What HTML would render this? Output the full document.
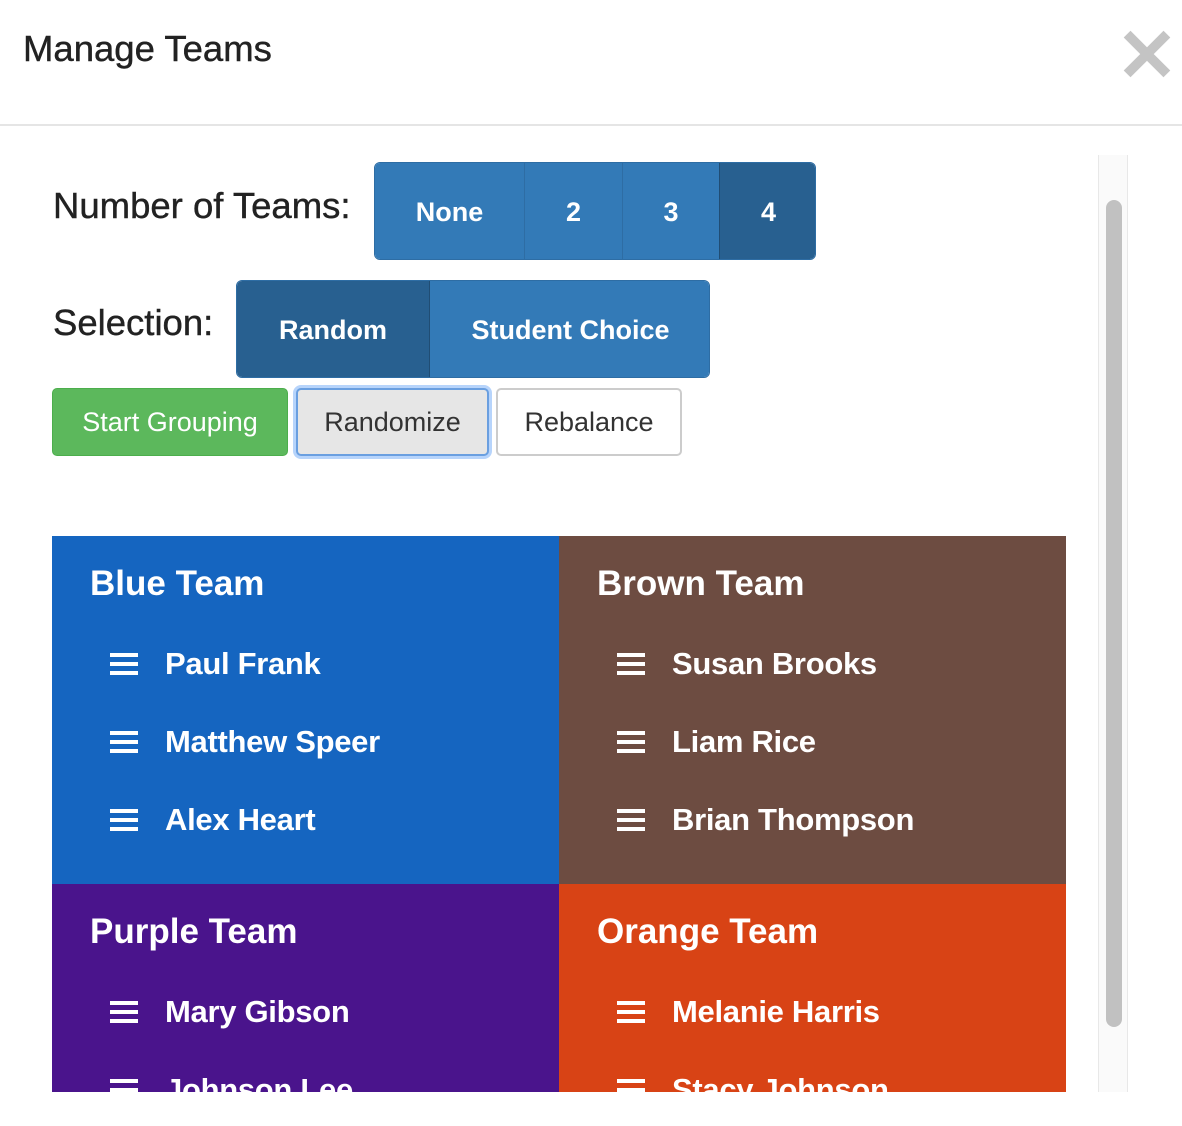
<!DOCTYPE html>
<html><head><style>
*{margin:0;padding:0;box-sizing:border-box}
body{width:1182px;height:1126px;background:#fff;font-family:"Liberation Sans",sans-serif;position:relative;overflow:hidden}
.a{position:absolute;white-space:nowrap}
.btn{position:absolute;display:flex;align-items:center;justify-content:center;color:#fff;font-size:27px;font-weight:bold;background:#337ab7}
.team{position:absolute;color:#fff;overflow:hidden}
.team h2{position:absolute;left:38px;top:28px;font-size:35px;font-weight:bold}
.nm{position:absolute;left:58px;font-size:31px;font-weight:bold;display:flex;align-items:center;letter-spacing:-0.3px}
.hb{width:28px;height:22px;margin-right:27px;background:linear-gradient(#fff 0 4px,transparent 4px 9px,#fff 9px 13px,transparent 13px 18px,#fff 18px 22px)}
</style></head><body>
<div class="a" style="left:23px;top:28px;font-size:36.5px;color:#222;-webkit-text-stroke:0.4px #222">Manage Teams</div>
<div class="a" style="left:1116px;top:14px;font-size:74px;font-weight:bold;color:#c4c4c4;line-height:84px">✕</div>
<div class="a" style="left:0;top:124px;width:1182px;height:2px;background:#e5e5e5"></div>
<div class="a" style="left:1098px;top:155px;width:30px;height:937px;background:#fafafa;border-left:1px solid #e8e8e8;border-right:1px solid #e8e8e8"></div>
<div class="a" style="left:1106px;top:200px;width:16px;height:827px;background:#c1c1c1;border-radius:8px"></div>

<div class="a" style="left:53px;top:185px;font-size:36.5px;color:#222;-webkit-text-stroke:0.4px #222">Number of Teams:</div>
<div class="a" style="left:374px;top:162px;width:442px;height:98px;border-radius:6px;overflow:hidden;border:1px solid #2e6da4">
<div class="btn" style="left:0;top:0;width:150px;height:98px;border-right:1px solid #2e6da4">None</div>
<div class="btn" style="left:150px;top:0;width:98px;height:98px;border-right:1px solid #2e6da4">2</div>
<div class="btn" style="left:248px;top:0;width:96px;height:98px">3</div>
<div class="btn" style="left:344px;top:0;width:98px;height:98px;background:#286090;border-left:1px solid #204d74">4</div>
</div>
<div class="a" style="left:53px;top:302px;font-size:36.5px;color:#222;-webkit-text-stroke:0.4px #222">Selection:</div>
<div class="a" style="left:236px;top:280px;width:474px;height:98px;border-radius:6px;overflow:hidden;border:1px solid #2e6da4">
<div class="btn" style="left:0;top:0;width:193px;height:98px;background:#286090;border-right:1px solid #204d74">Random</div>
<div class="btn" style="left:193px;top:0;width:281px;height:98px">Student Choice</div>
</div>
<div class="btn" style="left:52px;top:388px;width:236px;height:68px;background:#5cb85c;border:1px solid #4cae4c;border-radius:5px;font-weight:normal;font-size:27px">Start Grouping</div>
<div class="btn" style="left:296px;top:388px;width:193px;height:68px;background:#e6e6e6;border:2px solid #6a9fe0;box-shadow:0 0 0 3px #b7d4fb;border-radius:5px;color:#333;font-weight:normal;font-size:27px">Randomize</div>
<div class="btn" style="left:496px;top:388px;width:186px;height:68px;background:#fff;border:2px solid #ccc;border-radius:5px;color:#333;font-weight:normal;font-size:27px">Rebalance</div>

<div class="team" style="left:52px;top:536px;width:507px;height:348px;background:#1565c0">
<h2>Blue Team</h2>
<div class="nm" style="top:110px"><span class="hb"></span>Paul Frank</div>
<div class="nm" style="top:188px"><span class="hb"></span>Matthew Speer</div>
<div class="nm" style="top:266px"><span class="hb"></span>Alex Heart</div>
</div>
<div class="team" style="left:559px;top:536px;width:507px;height:348px;background:#6d4c41">
<h2>Brown Team</h2>
<div class="nm" style="top:110px"><span class="hb"></span>Susan Brooks</div>
<div class="nm" style="top:188px"><span class="hb"></span>Liam Rice</div>
<div class="nm" style="top:266px"><span class="hb"></span>Brian Thompson</div>
</div>
<div class="team" style="left:52px;top:884px;width:507px;height:208px;background:#4a148c">
<h2>Purple Team</h2>
<div class="nm" style="top:110px"><span class="hb"></span>Mary Gibson</div>
<div class="nm" style="top:188px"><span class="hb"></span>Johnson Lee</div>
</div>
<div class="team" style="left:559px;top:884px;width:507px;height:208px;background:#d84315">
<h2>Orange Team</h2>
<div class="nm" style="top:110px"><span class="hb"></span>Melanie Harris</div>
<div class="nm" style="top:188px"><span class="hb"></span>Stacy Johnson</div>
</div>
</body></html>
